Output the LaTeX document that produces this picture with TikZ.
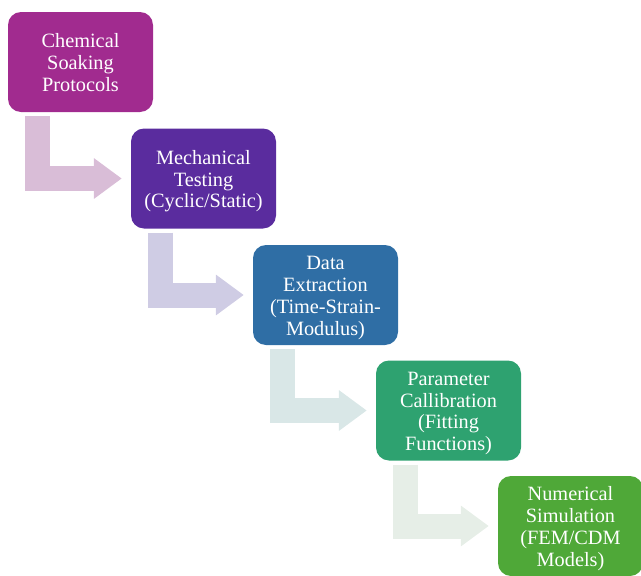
\documentclass[tikz,border=0pt]{standalone}
\usepackage{fontspec}
\setmainfont{Liberation Serif}
\usetikzlibrary{calc,arrows.meta}

% step colours
\definecolor{stepA}{HTML}{A12B8F}
\definecolor{stepB}{HTML}{5A2C9E}
\definecolor{stepC}{HTML}{2F6EA5}
\definecolor{stepD}{HTML}{2EA270}
\definecolor{stepE}{HTML}{4FA838}
% connector colours
\definecolor{linkA}{HTML}{D9BDD7}
\definecolor{linkB}{HTML}{CFCCE4}
\definecolor{linkC}{HTML}{D9E7E7}
\definecolor{linkD}{HTML}{E6EEE7}

\begin{document}
\begin{tikzpicture}[x=1pt,y=-1pt,
  stepbox/.style={rectangle, rounded corners=13pt, inner sep=0pt,
    minimum width=145pt, minimum height=100pt, text width=140pt,
    align=center, text=white, fill=#1,
    font=\fontsize{20.3}{21.7}\selectfont,
    % fixed first-line ascent and last-line descent so blocks centre evenly
    execute at begin node={\rule{0pt}{20pt}},
    execute at end node={\rule[-5pt]{0pt}{5pt}}},
  bentlink/.style={draw=#1, line width=25pt, line cap=butt, line join=miter,
    -{Triangle[length=28pt,width=39pt]}}
]
\useasboundingbox (0,0) rectangle (641,576);

\node[stepbox=stepA] (s1) at (80.5,62)    {Chemical\\Soaking\\Protocols};
\node[stepbox=stepB] (s2) at (203.5,178.5) {Mechanical\\Testing\\(Cyclic/Static)};
\node[stepbox=stepC] (s3) at (325.5,295)  {Data\\Extraction\\(Time-Strain-\\Modulus)};
\node[stepbox=stepD] (s4) at (448.5,410.5) {Parameter\\Callibration\\(Fitting\\Functions)};
\node[stepbox=stepE] (s5) at (570.5,526)  {Numerical\\Simulation\\(FEM/CDM\\Models)};

\draw[bentlink=linkA] ($(s1.south west)+(30,4)$) |- ($(s2.west)+(-9,0)$);
\draw[bentlink=linkB] ($(s2.south west)+(30,4)$) |- ($(s3.west)+(-9,0)$);
\draw[bentlink=linkC] ($(s3.south west)+(30,4)$) |- ($(s4.west)+(-9,0)$);
\draw[bentlink=linkD] ($(s4.south west)+(30,4)$) |- ($(s5.west)+(-9,0)$);
\end{tikzpicture}
\end{document}
